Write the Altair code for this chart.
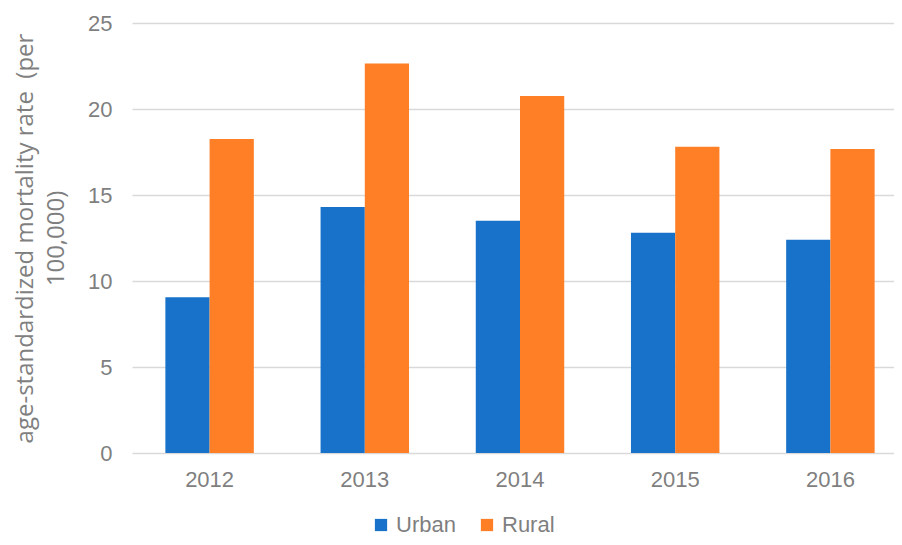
import altair as alt
import pandas as pd

years = ["2012", "2013", "2014", "2015", "2016"]
urban = [9.05, 14.3, 13.5, 12.8, 12.4]
rural = [18.25, 22.65, 20.75, 17.8, 17.67]
series = ["Urban", "Rural"]
colors = ["#1872C9", "#FF7F27"]

rows = []
for i, y in enumerate(years):
    rows.append({"year": y, "series": "Urban", "value": urban[i]})
    rows.append({"year": y, "series": "Rural", "value": rural[i]})
df = pd.DataFrame(rows)

grey = "#7F7F7F"

chart = alt.Chart(df).mark_bar().encode(
    x=alt.X("year:N", sort=years, title=None,
            scale=alt.Scale(paddingInner=0.43, paddingOuter=0.215, range=[0, 776]),
            axis=alt.Axis(labelAngle=0, ticks=False, domain=False,
                          labelFontSize=22, labelColor=grey,
                          labelFont="Liberation Sans", labelPadding=16)),
    xOffset=alt.XOffset("series:N", sort=series),
    y=alt.Y("value:Q", scale=alt.Scale(domain=[0, 25]),
            title=["age-standardized mortality rate\u00a0\u00a0(per", "100,000)"],
            axis=alt.Axis(values=[0, 5, 10, 15, 20, 25], domain=False, ticks=False,
                          gridColor="#D9D9D9", gridWidth=1.5,
                          labelFontSize=22, labelColor=grey, labelFont="Liberation Sans",
                          labelPadding=20, titleFont="Open Sans", titleFontSize=24,
                          titleFontWeight="normal", titleColor=grey, titleLineHeight=31,
                          titlePadding=19)),
    color=alt.Color("series:N", sort=series,
                    scale=alt.Scale(domain=series, range=colors),
                    legend=alt.Legend(orient="none", legendX=238, legendY=491,
                                      direction="horizontal", title=None,
                                      symbolType="square", symbolSize=150,
                                      symbolStrokeWidth=0,
                                      labelFontSize=22, labelColor=grey,
                                      labelFont="Liberation Sans", columnPadding=20)),
).properties(
    width=762, height=430,
    autosize=alt.AutoSizeParams(type="none"),
    padding={"left": 124, "top": 15, "right": 0, "bottom": 84},
).configure_view(stroke=None)

chart.save("out.html", embed_options={"renderer": "svg", "actions": False})
